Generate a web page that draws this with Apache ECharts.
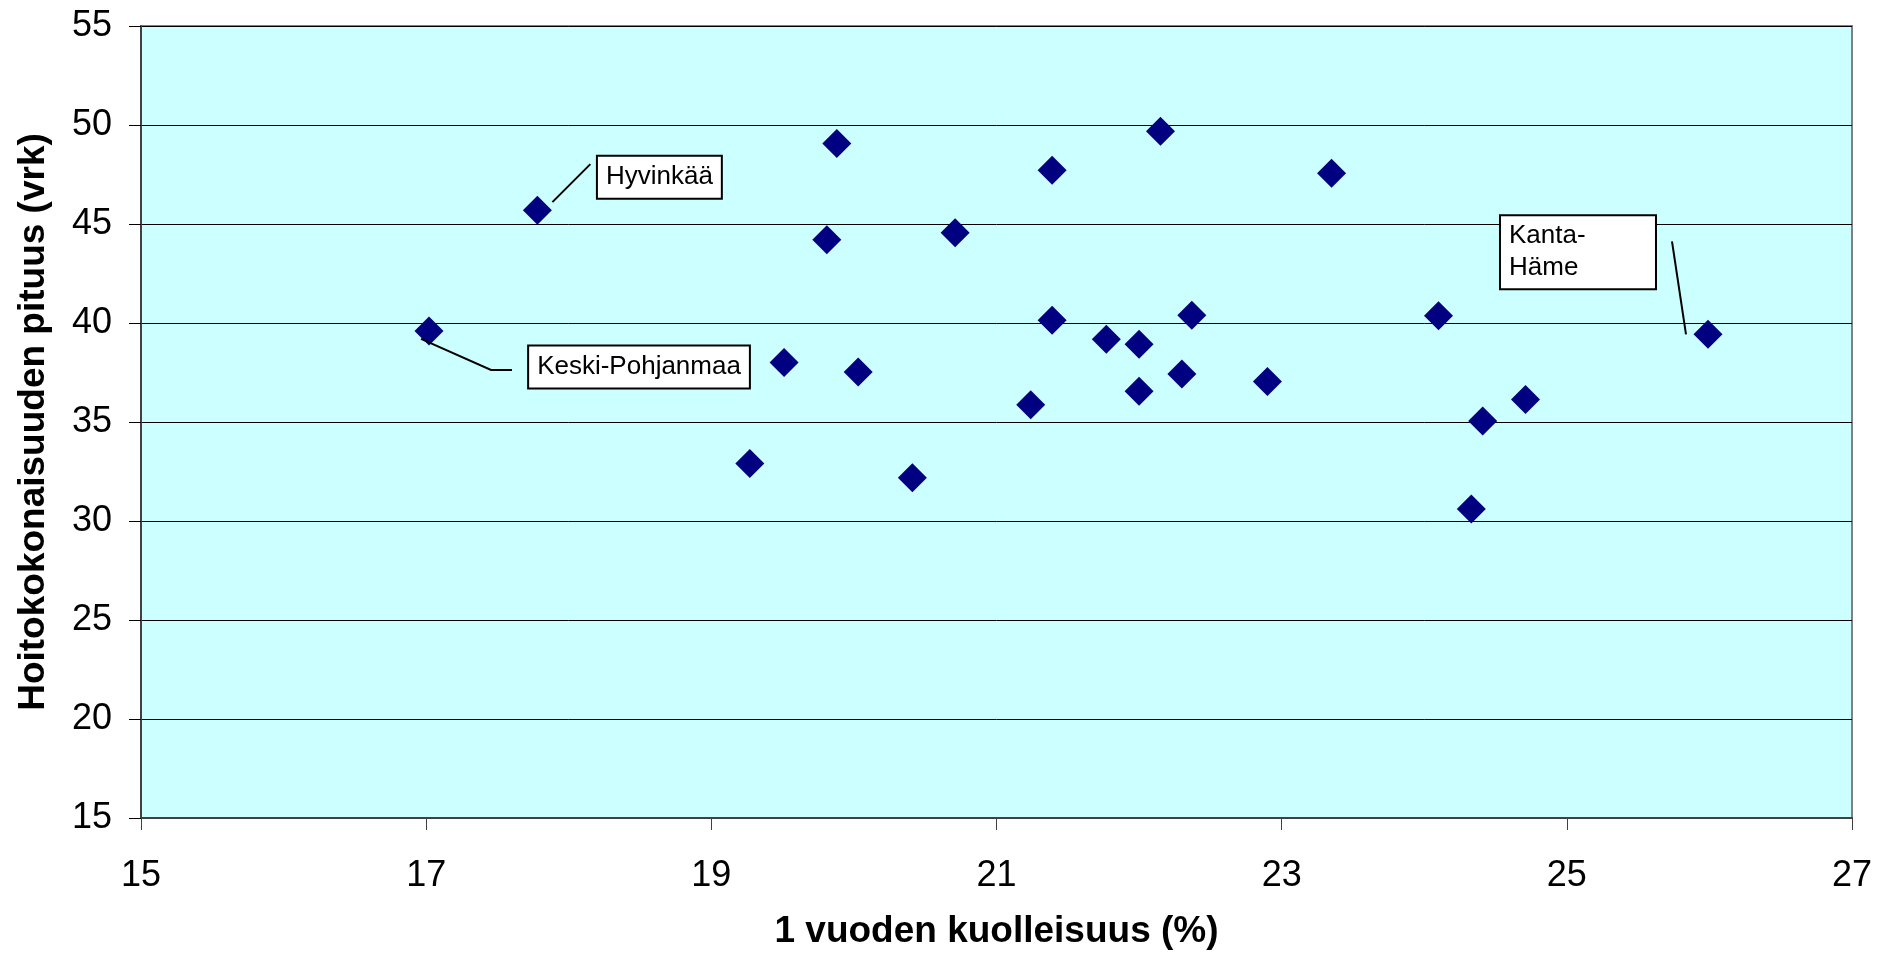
<!DOCTYPE html>
<html>
<head>
<meta charset="utf-8">
<title>Hoitokokonaisuuden pituus</title>
<script src="https://cdn.jsdelivr.net/npm/echarts@6/dist/echarts.min.js"></script>
<style>
	html, body { margin: 0; padding: 0; background: #fff; }
	#chart { width: 1877px; height: 955px; }
</style>
</head>
<body>
<div id="chart"></div>
<script>
	// 1 vuoden kuolleisuus (%)
	const mortality = [17.02, 17.78, 19.27, 19.51, 19.81, 19.88, 20.03, 20.41, 20.71, 21.24, 21.39, 21.39, 21.77,
		22.0, 22.0, 22.15, 22.3, 22.37, 22.9, 23.35, 24.1, 24.33, 24.41, 24.71, 25.99]
	// Hoitokokonaisuuden pituus (vrk)
	const careLength = [39.6, 45.7, 32.9, 38.0, 44.2, 49.06, 37.52, 32.19, 44.56, 35.87, 47.71, 40.14, 39.18,
		38.93, 36.55, 49.68, 37.43, 40.39, 37.05, 47.56, 40.36, 30.6, 35.05, 36.14, 39.43]
	const pointNames = ['Keski-Pohjanmaa', 'Hyvinkää', '', '', '', '', '', '', '', '', '', '', '',
		'', '', '', '', '', '', '', '', '', '', '', 'Kanta-\nHäme']
	const xTicks = [15, 17, 19, 21, 23, 25, 27]
	const yTicks = [15, 20, 25, 30, 35, 40, 45, 50, 55]

	const font = "'Liberation Sans', Arial, sans-serif"
	const chart = echarts.init(document.getElementById('chart'))

	// callout placement relative to the point (px): box centre and leader line
	const callouts = {
		'Hyvinkää': { box: [124, -33], line: [[15, -8], [53, -46]] },
		'Keski-Pohjanmaa': { box: [212, 36], line: [[-8, 8], [62, 39], [83, 39]] },
		'Kanta-\nHäme': { box: [-128, -82], line: [[-36, -93], [-22, 0]] }
	}

	const points = mortality.map((x, i) => {
		const item = { value: [x, careLength[i]], name: pointNames[i] }
		if (pointNames[i]) {
			const multi = pointNames[i].indexOf('\n') > -1
			item.label = {
				show: true,
				formatter: '{b}',
				color: '#000',
				fontSize: 26,
				fontFamily: font,
				backgroundColor: '#fff',
				borderColor: '#000',
				borderWidth: 2,
				padding: multi ? [4, 8, 4, 8] : [7, 8, 6, 8],
				lineHeight: multi ? 32 : 28,
				width: multi ? 138 : null,
				align: 'left'
			}
		}
		return item
	})

	const option = {
		animation: false,
		grid: {
			left: 141,
			right: 25,
			top: 26,
			bottom: 135,
			show: true,
			backgroundColor: '#CCFFFF',
			borderColor: '#808080',
			borderWidth: 2
		},
		xAxis: {
			type: 'value',
			min: xTicks[0],
			max: xTicks[xTicks.length - 1],
			name: '1 vuoden kuolleisuus (%)',
			nameLocation: 'middle',
			nameGap: 95,
			nameTextStyle: { fontSize: 37, fontWeight: 'bold', color: '#000', fontFamily: font },
			axisLine: { show: true, lineStyle: { color: '#404040', width: 2 } },
			axisTick: { show: true, length: 12, customValues: xTicks, lineStyle: { color: '#404040', width: 1 } },
			axisLabel: { customValues: xTicks, fontSize: 36, color: '#000', fontFamily: font, margin: 40 },
			splitLine: { show: false }
		},
		yAxis: {
			type: 'value',
			min: yTicks[0],
			max: yTicks[yTicks.length - 1],
			interval: 5,
			name: 'Hoitokokonaisuuden pituus (vrk)',
			nameLocation: 'middle',
			nameGap: 89,
			nameTextStyle: { fontSize: 37, fontWeight: 'bold', color: '#000', fontFamily: font },
			axisLine: { show: true, lineStyle: { color: '#404040', width: 2 } },
			axisTick: { show: true, length: 12, lineStyle: { color: '#000', width: 1 } },
			axisLabel: { fontSize: 36, color: '#000', fontFamily: font, margin: 29 },
			splitLine: { show: true, lineStyle: { color: '#000', width: 1 } }
		},
		series: [{
			type: 'scatter',
			symbol: 'diamond',
			symbolSize: 29,
			itemStyle: { color: '#000080', opacity: 1 },
			data: points,
			labelLayout: function (params) {
				const c = callouts[pointNames[params.dataIndex]]
				if (!c) return {}
				const cx = params.rect.x + params.rect.width / 2
				const cy = params.rect.y + params.rect.height / 2
				return {
					x: cx + c.box[0] - params.labelRect.width / 2,
					y: cy + c.box[1],
					verticalAlign: 'middle'
				}
			}
		}]
	}
	chart.setOption(option)

	// leader lines, anchored on the data point through the chart's scales
	const leaders = []
	pointNames.forEach((n, i) => {
		if (!n) return
		const p = chart.convertToPixel({ seriesIndex: 0 }, [mortality[i], careLength[i]])
		leaders.push({
			type: 'polyline',
			z: 10,
			shape: { points: callouts[n].line.map(o => [p[0] + o[0], p[1] + o[1]]) },
			style: { stroke: '#000', lineWidth: 2, fill: null }
		})
	})
	chart.setOption({ graphic: leaders })
</script>
</body>
</html>
